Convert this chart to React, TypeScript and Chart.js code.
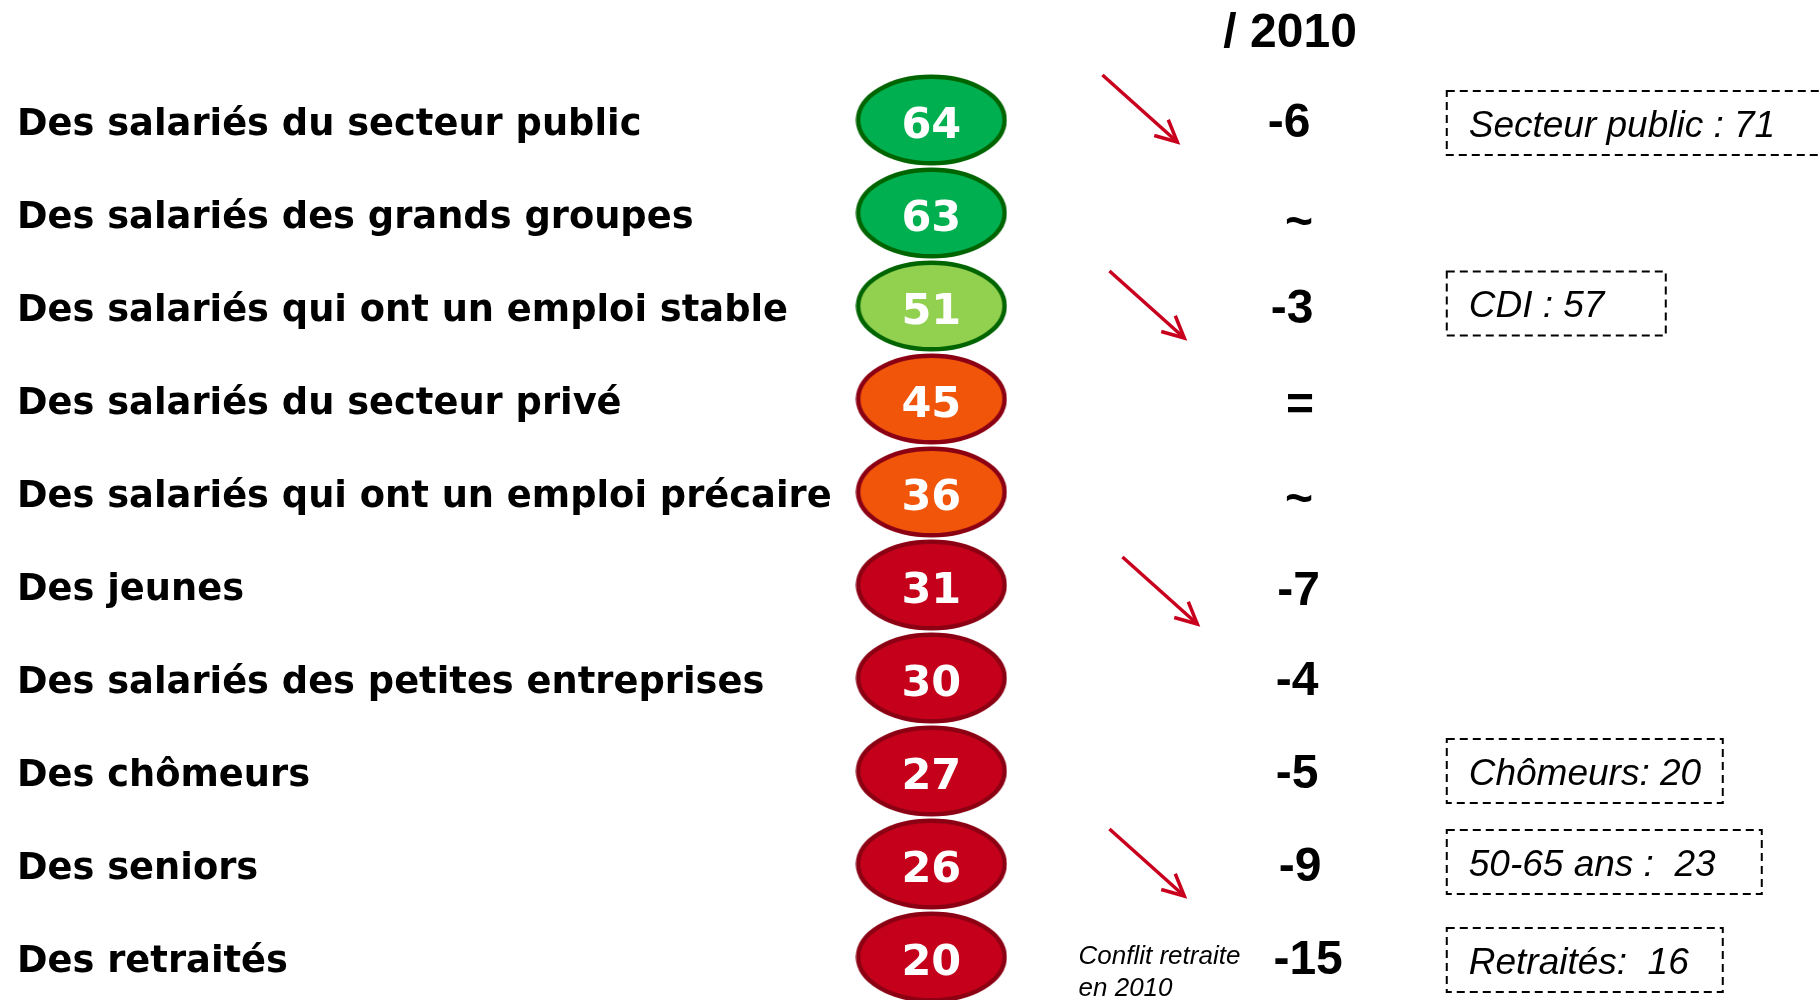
import React, { useEffect, useRef } from "react";
import { Chart, registerables } from "chart.js";

Chart.register(...registerables);

// ---------- data ----------
const CATEGORIES = [
  "Des salariés du secteur public",
  "Des salariés des grands groupes",
  "Des salariés qui ont un emploi stable",
  "Des salariés du secteur privé",
  "Des salariés qui ont un emploi précaire",
  "Des jeunes",
  "Des salariés des petites entreprises",
  "Des chômeurs",
  "Des seniors",
  "Des retraités",
];
const SCORES = [64, 63, 51, 45, 36, 31, 30, 27, 26, 20];
const CHANGES_VS_2010 = ["-6", "~", "-3", "=", "~", "-7", "-4", "-5", "-9", "-15"];
const DOWN_ARROWS = [true, false, true, false, false, true, false, false, true, false];
const COMPARISONS = [
  "Secteur public : 71",
  "",
  "CDI : 57",
  "",
  "",
  "",
  "",
  "Chômeurs: 20",
  "50-65 ans :  23",
  "Retraités:  16",
];
const NOTES = ["", "", "", "", "", "", "", "", "", "Conflit retraite\nen 2010"];
const HEADER = "/ 2010";

// ---------- layout (px units of the hidden x scale, from chart-area left) ----------
const W = 1820;
const H = 1000;
const LEFT_PAD = 17;
const AXIS_W = 839;
const X_MAX = W - LEFT_PAD - AXIS_W;
const COL = {
  bubble: 75.5,
  arrowFrom: 255,
  arrowTo: 330,
  change: 442,
  header: 435,
  box: 592,
  boxText: 614,
  note: 223,
};
const CHANGE_DX = [-8, 2, -5, 3, 2, 1.5, 0, 0, 3, 11];
const CHANGE_DY = [0, 7, 0, 4, 5, 3, 0, 0, 0, 0];
const BOX_W = [420, 0, 219, 0, 0, 0, 0, 276, 315, 276];
const BOX_DY = [3, 0, -2.5, 0, 0, 0, 0, 0, -2, 3];
const ARROW_DX = [-8, 0, -1, 0, 0, 12, 0, 0, -1, 0];
const ARROW_DY = [-10, 0, 0, 0, 0, 7, 0, 0, 0, 0];

// ---------- styles ----------
function bubbleColors(v: number) {
  if (v >= 60) return { fill: "#00B050", stroke: "#006400" };
  if (v >= 50) return { fill: "#92D050", stroke: "#006400" };
  if (v >= 35) return { fill: "#F0550A", stroke: "#8C0014" };
  return { fill: "#C4001A", stroke: "#8C0014" };
}

function makeEllipse(fill: string, stroke: string) {
  const c = document.createElement("canvas");
  c.width = 152;
  c.height = 92;
  const g = c.getContext("2d")!;
  const lw = 4.5;
  g.beginPath();
  g.ellipse(76, 46, (151 - lw) / 2, (91 - lw) / 2, 0, 0, Math.PI * 2);
  g.fillStyle = fill;
  g.fill();
  g.lineWidth = lw;
  g.strokeStyle = stroke;
  g.stroke();
  return c;
}

const annotationsPlugin = {
  id: "annotations",
  afterDatasetsDraw(chart: any) {
    const { ctx } = chart;
    const xs = chart.scales.x;
    const ys = chart.scales.y;
    const meta = chart.getDatasetMeta(0);
    ctx.save();

    // values inside the ellipses
    ctx.font = 'bold 43px "DejaVu Sans"';
    ctx.fillStyle = "#ffffff";
    ctx.textAlign = "center";
    ctx.textBaseline = "alphabetic";
    meta.data.forEach((pt: any, i: number) => {
      ctx.fillText(String(SCORES[i]), pt.x, pt.y + 18);
    });

    // header
    ctx.fillStyle = "#000";
    ctx.font = 'bold 48px "Liberation Sans"';
    ctx.fillText(HEADER, xs.getPixelForValue(COL.header), ys.getPixelForValue(0) - 73);

    // changes
    CHANGES_VS_2010.forEach((t, i) => {
      const y = ys.getPixelForValue(i) + CHANGE_DY[i];
      ctx.fillText(t, xs.getPixelForValue(COL.change) + CHANGE_DX[i], y + 17);
    });

    // arrows
    ctx.strokeStyle = "#C8001E";
    ctx.lineWidth = 3.5;
    ctx.lineCap = "butt";
    DOWN_ARROWS.forEach((a, i) => {
      if (!a) return;
      const y = ys.getPixelForValue(i) + ARROW_DY[i];
      const x0 = xs.getPixelForValue(COL.arrowFrom) + ARROW_DX[i];
      const x1 = xs.getPixelForValue(COL.arrowTo) + ARROW_DX[i];
      const y0 = y - 35;
      const y1 = y + 32;
      ctx.beginPath();
      ctx.moveTo(x0, y0);
      ctx.lineTo(x1, y1);
      ctx.stroke();
      const ang = Math.atan2(y0 - y1, x0 - x1);
      const len = 24;
      const spread = (26 * Math.PI) / 180;
      ctx.beginPath();
      ctx.moveTo(x1 + Math.cos(ang - spread) * len, y1 + Math.sin(ang - spread) * len);
      ctx.lineTo(x1, y1);
      ctx.lineTo(x1 + Math.cos(ang + spread) * len, y1 + Math.sin(ang + spread) * len);
      ctx.stroke();
    });

    // comparison boxes
    ctx.textAlign = "left";
    COMPARISONS.forEach((t, i) => {
      if (!t) return;
      const cy = ys.getPixelForValue(i) + BOX_DY[i];
      const bx = xs.getPixelForValue(COL.box);
      ctx.save();
      ctx.setLineDash([8, 5]);
      ctx.lineWidth = 2;
      ctx.strokeStyle = "#000";
      ctx.strokeRect(bx, cy - 32, BOX_W[i], 64);
      ctx.restore();
      ctx.fillStyle = "#000";
      ctx.font = 'italic 37px "Liberation Sans"';
      ctx.fillText(t, xs.getPixelForValue(COL.boxText), cy + 13.5);
    });

    // notes
    ctx.font = 'italic 26px "Liberation Sans"';
    ctx.fillStyle = "#000";
    NOTES.forEach((t, i) => {
      if (!t) return;
      const y = ys.getPixelForValue(i);
      t.split("\n").forEach((line, k) => {
        ctx.fillText(line, xs.getPixelForValue(COL.note), y + 7 + k * 32);
      });
    });

    ctx.restore();
  },
};

export default function App() {
  const ref = useRef<HTMLCanvasElement | null>(null);

  useEffect(() => {
    document.body.style.margin = "0";
    const canvas = ref.current!;
    const styles = SCORES.map((v) => {
      const c = bubbleColors(v);
      return makeEllipse(c.fill, c.stroke);
    });
    const chart = new Chart(canvas, {
      type: "scatter",
      data: {
        labels: CATEGORIES,
        datasets: [
          {
            data: SCORES.map((_, i) => ({ x: COL.bubble, y: CATEGORIES[i] as any })),
            pointStyle: styles as any,
            pointRadius: 1,
            pointHoverRadius: 1,
            clip: false as any,
          },
        ],
      },
      options: {
        animation: false,
        responsive: false,
        devicePixelRatio: 1,
        layout: { padding: { left: LEFT_PAD, top: 120, bottom: 43, right: 0 } },
        plugins: {
          legend: { display: false },
          tooltip: { enabled: false },
          title: { display: false },
        },
        events: [],
        scales: {
          x: { type: "linear", min: 0, max: X_MAX, display: false },
          y: {
            type: "category",
            labels: CATEGORIES,
            offset: false,
            grid: { display: false },
            border: { display: false },
            ticks: {
              autoSkip: false,
              crossAlign: "far",
              color: "#000",
              padding: 0,
              labelOffset: 5,
              font: { family: '"DejaVu Sans"', weight: "bold", size: 36.8 },
            },
            afterFit: (scale: any) => {
              scale.width = AXIS_W;
            },
          },
        },
      },
      plugins: [annotationsPlugin],
    });
    return () => chart.destroy();
  }, []);

  return (
    <div style={{ width: W, height: H, background: "#fff" }}>
      <canvas ref={ref} width={W} height={H} style={{ display: "block" }} />
    </div>
  );
}
